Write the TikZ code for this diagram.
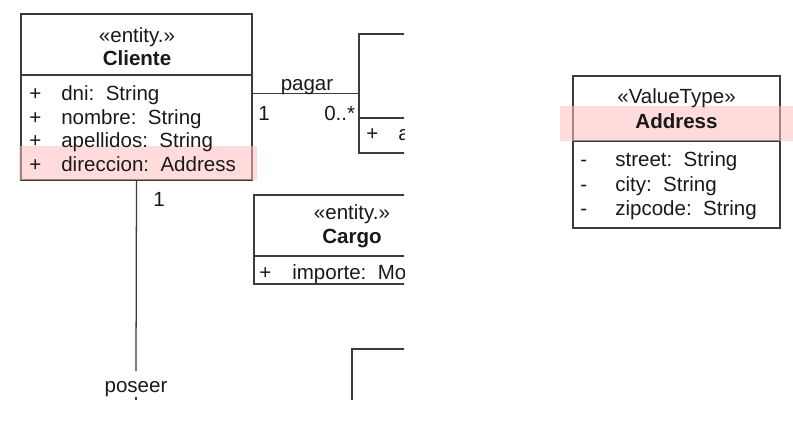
\documentclass[tikz,border=0pt]{standalone}
\usepackage{fontspec}
\setmainfont{Liberation Sans}
\usepackage{tikz}
\definecolor{umlline}{RGB}{60,60,60}
\definecolor{umltext}{RGB}{25,25,25}
\definecolor{hilite}{RGB}{255,190,190}

\begin{document}
\begin{tikzpicture}[x=0.025cm,y=-0.025cm]
\tikzstyle{every node}=[inner sep=0pt,text=umltext,font=\fontsize{14.6}{16}\selectfont];
\tikzstyle{umlbox}=[draw=umlline,line width=0.9pt,rectangle];
\tikzstyle{umlline}=[draw=umlline,line width=0.9pt];
\tikzstyle{attr}=[anchor=base west];
\tikzstyle{head}=[anchor=base];
\tikzstyle{hl}=[fill=hilite,fill opacity=0.55];
\useasboundingbox (0,0) rectangle (793,422);
\begin{scope}
\clip (0,0) rectangle (404,399);
% class Cliente
    \node[umlbox,minimum width=5.775cm,minimum height=4.15cm] (cliente) at (136.5,97) {};
    \draw[umlline] (21,75) -- (252,75);
    \fill[hl] (19,146) rectangle (257,180);
    \node[head] (cli-st) at (137,42) {«entity.»};
    \node[head] (cli-name) at (137,65) {\bfseries Cliente};
    \node[attr] (cli-v1) at (29,100) {+};
    \node[attr] (cli-a1) at (61,100) {dni:\ \ String};
    \node[attr] (cli-v2) at (29,124) {+};
    \node[attr] (cli-a2) at (61,124) {nombre:\ \ String};
    \node[attr] (cli-v3) at (29,147) {+};
    \node[attr] (cli-a3) at (61,147) {apellidos:\ \ String};
    \node[attr] (cli-v4) at (29,171) {+};
    \node[attr] (cli-a4) at (61,171) {direccion:\ \ Address};
% class (pagar side)
    \node[umlbox,minimum width=3.025cm,minimum height=2.975cm] (pago) at (419.5,93.5) {};
    \draw[umlline] (359,118) -- (480,118);
    \node[attr] (pago-v1) at (366,140) {+};
    \node[attr] (pago-a1) at (398,140) {a};
% class Cargo
    \node[umlbox,minimum width=4.9cm,minimum height=2.225cm] (cargo) at (352,239.5) {};
    \draw[umlline] (254,256) -- (450,256);
    \node[head] (car-st) at (352,219) {«entity.»};
    \node[head] (car-name) at (352,243) {\bfseries Cargo};
    \node[attr] (car-v1) at (259,279) {+};
    \node[attr] (car-a1) at (292,279) {importe:\ \ Mo};
% class (poseer side)
    \node[umlbox,minimum width=3.2cm,minimum height=2.775cm] (bien) at (416,404.5) {};
% association pagar
    \draw[umlline] (cliente.east |- pago.west) -- (pago.west);
    \node[head] (pagar) at (307,90) {pagar};
    \node[attr] (pagar-m1) at (258,120) {1};
    \node[attr] (pagar-m2) at (324,120) {0..*};
% association poseer
    \node[head] (poseer) at (136,392) {poseer};
    \draw[umlline] (cliente.south) -- ([yshift=0.24cm]poseer.north);
    \draw[umlline] (poseer.south) -- ++(0,20);
    \node[attr] (poseer-m1) at (153,206) {1};
\end{scope}
% value type Address
    \node[umlbox,minimum width=5.175cm,minimum height=3.8cm] (address) at (676.5,152) {};
    \draw[umlline] (573,141) -- (780,141);
    \fill[hl] (560,106) rectangle (793,141);
    \node[head] (adr-st) at (676.5,103) {«ValueType»};
    \node[head] (adr-name) at (676.5,128) {\bfseries Address};
    \node[attr] (adr-v1) at (580,166) {-};
    \node[attr] (adr-a1) at (615,166) {street:\ \ String};
    \node[attr] (adr-v2) at (580,191) {-};
    \node[attr] (adr-a2) at (615,191) {city:\ \ String};
    \node[attr] (adr-v3) at (580,215) {-};
    \node[attr] (adr-a3) at (615,215) {zipcode:\ \ String};
\end{tikzpicture}
\end{document}
